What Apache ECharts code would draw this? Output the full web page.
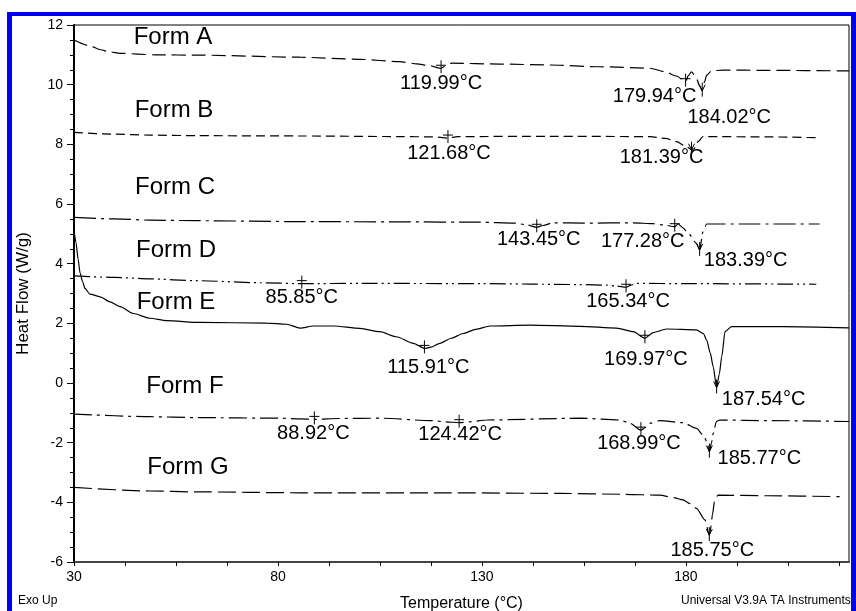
<!DOCTYPE html>
<html>
<head>
<meta charset="utf-8">
<script src="https://cdn.jsdelivr.net/npm/echarts@6/dist/echarts.min.js"></script>
<style>
html,body{margin:0;padding:0;background:#fff;}
#chart{width:856px;height:611px;}
</style>
</head>
<body>
<div id="chart"></div>
<script>
// ---------------- DATA ----------------
var xTickLabels = [30, 80, 130, 180];
var yTickLabels = [-6, -4, -2, 0, 2, 4, 6, 8, 10, 12];
var formNames = ['Form A', 'Form B', 'Form C', 'Form D', 'Form E', 'Form F', 'Form G'];

var formA = [[30,11.5],[33.9,11.3],[36.5,11.17],[38.8,11.1],[41.3,11.05],[50,11.0],[60.9,10.99],[85.4,10.92],[100,10.85],[109.9,10.77],[114,10.7],[117.3,10.63],[119.99,10.55],[121,10.62],[122.6,10.72],[134.4,10.69],[146.7,10.66],[158.9,10.6],[171.2,10.55],[174.9,10.43],[177.7,10.29],[179.94,10.1],[180.6,10.3],[181.4,10.43],[182.6,10.21],[183.4,9.95],[184.02,9.8],[184.6,10.1],[185.1,10.32],[186.3,10.46],[189.1,10.49],[200,10.48],[220,10.46]];
var formB = [[30,8.4],[40,8.34],[48.6,8.31],[60,8.29],[85.4,8.28],[110,8.26],[118,8.25],[121.68,8.21],[124,8.26],[146.7,8.27],[171.2,8.26],[175,8.2],[177.7,8.09],[180,7.93],[181.39,7.82],[182,7.85],[183,8.09],[184.2,8.26],[200,8.25],[212.4,8.22]];
var formC = [[30,5.55],[40,5.5],[48.6,5.46],[60,5.44],[85.4,5.41],[110,5.4],[129.5,5.39],[138,5.36],[141,5.3],[143.45,5.22],[145,5.28],[147.5,5.37],[155,5.36],[167.1,5.37],[172,5.34],[174.4,5.3],[177.28,5.24],[178.1,5.33],[179.3,5.2],[180.6,5.02],[182.6,4.68],[183.39,4.46],[184.2,5.07],[185.1,5.33],[195,5.33],[212.8,5.33]];
var formD = [[30,3.59],[40,3.54],[48.6,3.49],[60,3.43],[75.6,3.36],[85.85,3.33],[100,3.34],[130,3.33],[154,3.3],[160.6,3.28],[163,3.25],[165.34,3.21],[166.5,3.28],[167.9,3.34],[180,3.33],[212,3.31]];
var formE = [[30,5.13],[30.5,4.7],[31,4.15],[31.5,3.68],[32.1,3.4],[32.7,3.17],[33.9,2.98],[36.4,2.89],[38.8,2.72],[41.3,2.56],[44.5,2.33],[48.6,2.17],[52.7,2.09],[60.9,2.03],[77.2,2.01],[82.1,1.97],[85.4,1.84],[88.7,1.91],[93.6,1.91],[100.1,1.83],[105,1.72],[109,1.55],[113.2,1.33],[115.91,1.16],[117.5,1.2],[119.7,1.33],[122.5,1.5],[125.4,1.66],[128.5,1.8],[132,1.91],[141.8,1.94],[154,1.9],[163,1.84],[167.1,1.72],[169.97,1.5],[172,1.69],[175.3,1.81],[182.6,1.78],[184.3,1.66],[185.1,1.44],[186,1.0],[186.7,0.55],[187.54,-0.15],[188.2,0.3],[188.8,0.88],[189.6,1.72],[191.2,1.89],[203.9,1.89],[220,1.85]];
var formF = [[30,-1.04],[48.6,-1.13],[60,-1.16],[80.5,-1.18],[85.4,-1.2],[88.92,-1.22],[95,-1.19],[105,-1.18],[117.3,-1.26],[121,-1.3],[124.42,-1.33],[127,-1.3],[131.2,-1.24],[154,-1.18],[163.8,-1.24],[166.3,-1.35],[168.99,-1.58],[170,-1.5],[171.2,-1.35],[173.6,-1.26],[179.3,-1.33],[182.6,-1.52],[184.3,-1.75],[185.1,-1.95],[185.77,-2.3],[186.3,-2.0],[186.7,-1.69],[187.5,-1.29],[188.3,-1.24],[200,-1.26],[220,-1.29]];
var formG = [[30,-3.5],[48.6,-3.62],[60,-3.65],[85.4,-3.68],[120,-3.68],[149.1,-3.7],[165,-3.73],[173.6,-3.76],[177,-3.84],[179.3,-3.92],[181,-4.04],[182.6,-4.2],[184.7,-4.59],[185.75,-5.1],[186.2,-4.8],[186.5,-4.42],[187.1,-3.92],[187.9,-3.76],[200,-3.78],[217.7,-3.81]];

var peakTemps = [119.99, 179.94, 184.02, 121.68, 181.39, 143.45, 177.28, 183.39, 85.85, 165.34, 115.91, 169.97, 187.54, 88.92, 124.42, 168.99, 185.77, 185.75];
var peakHF    = [10.55, 10.1, 9.8, 8.21, 7.82, 5.22, 5.24, 4.46, 3.33, 3.21, 1.16, 1.5, -0.15, -1.22, -1.33, -1.58, -2.3, -5.1];
var peakLabels = ['119.99°C','179.94°C','184.02°C','121.68°C','181.39°C','143.45°C','177.28°C','183.39°C','85.85°C','165.34°C','115.91°C','169.97°C','187.54°C','88.92°C','124.42°C','168.99°C','185.77°C','185.75°C'];

// ---------------- STYLE / LAYOUT ----------------
var peakLabelOffset = [[0,15],[-31,15],[27,27],[1,15],[-30,8],[2,12],[-32,15],[46,11],[0,14],[2,14],[4,19],[1,21],[47,12],[-1,14],[1,12],[-2,13],[50,7],[3,15]];
var peakMarker = ['plus','plus','arrow','plus','arrow','plus','plus','arrow','plus','plus','plus','plus','arrow','plus','plus','plus','arrow','arrow'];
var formLabelPos = [[173,37],[174,110],[175,187],[176,250],[176,302],[185,386],[188,467]];
var dashes = [[14,6],[9,5],[22,5,3,5],[16,4,2,4,2,4],null,[18,5,3,5],[18,6]];

var FONT = '"Liberation Sans", Arial, sans-serif';
var allForms = [formA, formB, formC, formD, formE, formF, formG];

var series = allForms.map(function(d, i){
  return {
    type: 'line',
    name: formNames[i],
    data: d,
    symbol: 'none',
    smooth: 0.25,
    smoothMonotone: 'x',
    lineStyle: {color: '#000', width: 1.2, type: dashes[i] ? dashes[i] : 'solid'},
    silent: true,
    z: 2
  };
});

series.push({
  type: 'custom',
  data: peakTemps.map(function(t, i){ return [t, peakHF[i]]; }),
  z: 5,
  renderItem: function(params, api){
    var i = params.dataIndex;
    var p = api.coord([api.value(0), api.value(1)]);
    var off = peakLabelOffset[i];
    var ch = [];
    if (peakMarker[i] === 'plus') {
      ch.push({type:'line', shape:{x1:p[0], y1:p[1]-8, x2:p[0], y2:p[1]+5}, style:{stroke:'#000', lineWidth:1}});
      ch.push({type:'line', shape:{x1:p[0]-5, y1:p[1]-3, x2:p[0]+5, y2:p[1]-3}, style:{stroke:'#000', lineWidth:1}});
    } else {
      ch.push({type:'line', shape:{x1:p[0], y1:p[1]-8, x2:p[0], y2:p[1]+6}, style:{stroke:'#000', lineWidth:1}});
      ch.push({type:'polyline', shape:{points:[[p[0]-3,p[1]-6],[p[0],p[1]],[p[0]+3,p[1]-6]]}, style:{stroke:'#000', lineWidth:1, fill:null}});
    }
    ch.push({type:'text', x:p[0]+off[0], y:p[1]+off[1], style:{text: peakLabels[i], font:'20px ' + FONT, fill:'#000', align:'center', verticalAlign:'middle'}});
    return {type:'group', children: ch};
  }
});

var graphics = [
  {type:'rect', shape:{x:7, y:12, width:5, height:599}, style:{fill:'#0000f0'}, z:100},
  {type:'rect', shape:{x:7, y:12, width:849, height:4}, style:{fill:'#0000f0'}, z:100},
  {type:'rect', shape:{x:851, y:12, width:5, height:599}, style:{fill:'#0000f0'}, z:100},
  {type:'text', left:18, top:595, style:{text:'Exo Up', font:'12px ' + FONT, fill:'#000'}},
  {type:'text', left:681, top:595, style:{text:'Universal V3.9A TA Instruments', font:'12px ' + FONT, fill:'#000'}}
];
formNames.forEach(function(n, i){
  graphics.push({type:'text', x:formLabelPos[i][0], y:formLabelPos[i][1], style:{text:n, font:'24px ' + FONT, fill:'#000', align:'center', verticalAlign:'middle'}});
});

var chart = echarts.init(document.getElementById('chart'), null, {renderer:'canvas'});
chart.setOption({
  backgroundColor: '#fff',
  animation: false,
  grid: {left:74, top:25, right:7, bottom:49, show:true, borderColor:'#000', borderWidth:1, backgroundColor:'transparent', containLabel:false, outerBoundsMode:'none'},
  xAxis: {
    type:'value', min:30, max:220, interval:12.5,
    name:'Temperature (°C)', nameLocation:'middle', nameGap:34,
    nameTextStyle:{fontSize:16, fontFamily:FONT, color:'#000'},
    axisLine:{show:true, onZero:false, lineStyle:{color:'#444', width:2}},
    axisTick:{show:true, length:4, lineStyle:{color:'#000', width:1}},
    axisLabel:{fontSize:14, fontFamily:FONT, color:'#000', margin:8, showMaxLabel:false,
      formatter:function(v){ return xTickLabels.indexOf(v) >= 0 ? String(v) : ''; }},
    splitLine:{show:false}
  },
  yAxis: {
    type:'value', min:-6, max:12, interval:2,
    name:'Heat Flow (W/g)', nameLocation:'middle', nameGap:42, nameRotate:90,
    nameTextStyle:{fontSize:17, fontFamily:FONT, color:'#000'},
    axisLine:{show:true, onZero:false, lineStyle:{color:'#000', width:2}},
    axisTick:{show:true, length:7, lineStyle:{color:'#000', width:1}},
    minorTick:{show:true, splitNumber:4, length:4, lineStyle:{color:'#000', width:1}},
    axisLabel:{fontSize:14, fontFamily:FONT, color:'#000', margin:11,
      formatter:function(v){ return yTickLabels.indexOf(v) >= 0 ? String(v) : ''; }},
    splitLine:{show:false}
  },
  series: series,
  graphic: graphics
});
</script>
</body>
</html>
